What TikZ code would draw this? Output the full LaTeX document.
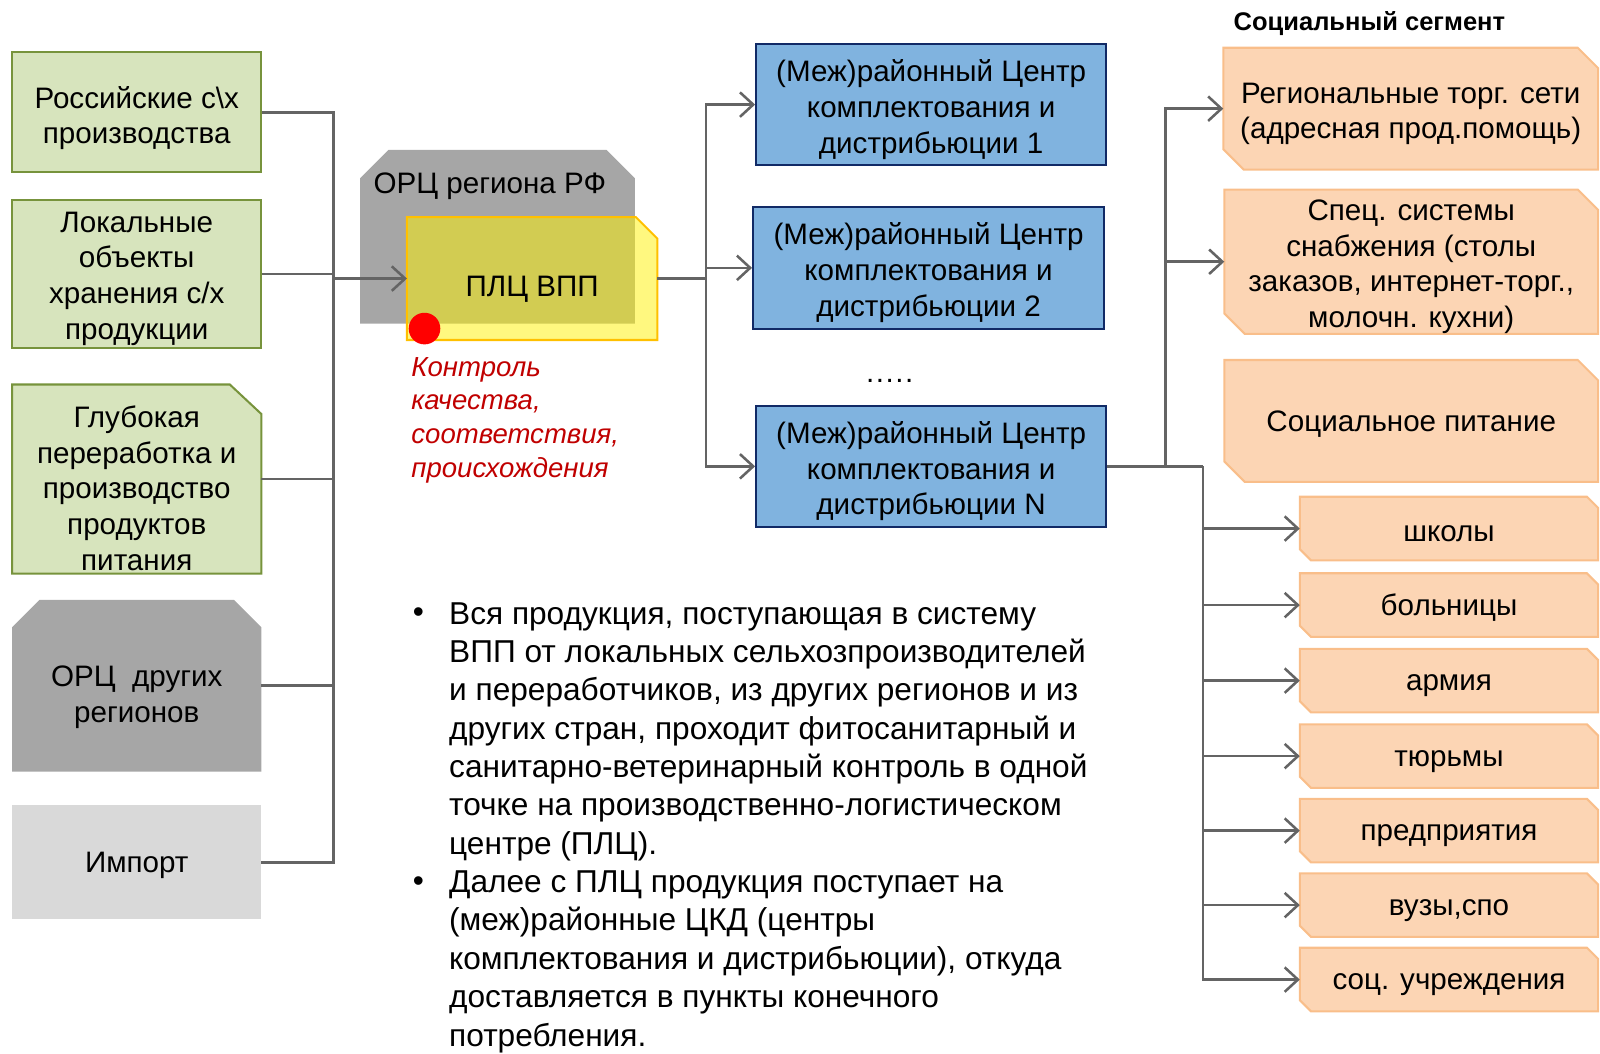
\documentclass[tikz,border=0pt]{standalone}
\usepackage{fontspec}
\setmainfont{Liberation Sans}
\usetikzlibrary{arrows.meta, backgrounds}

\definecolor{greenfill}{HTML}{D7E4BD}
\definecolor{greenline}{HTML}{77933C}
\definecolor{orcgray}{HTML}{A6A6A6}
\definecolor{importgray}{HTML}{D9D9D9}
\definecolor{bluefill}{HTML}{80B3DF}
\definecolor{blueline}{HTML}{112A66}
\definecolor{orangefill}{HTML}{FCD5B4}
\definecolor{orangeline}{HTML}{F9BE8A}
\definecolor{plcline}{HTML}{FFC000}
\definecolor{linegray}{HTML}{646464}
\definecolor{redtext}{HTML}{C00000}

\tikzset{
    box/.style={align=center, inner sep=0pt, font=\fontsize{29}{35}\selectfont,
        execute at begin node={\rule{0pt}{26pt}}},
    greenbox/.style={box, draw=greenline, fill=greenfill, line width=2pt, minimum width=244pt},
    bluebox/.style={box, draw=blueline, fill=bluefill, line width=2pt, minimum width=343pt, minimum height=119pt},
    greenshape/.style={draw=greenline, fill=greenfill, line width=2pt},
    orangeshape/.style={draw=orangeline, fill=orangefill, line width=2pt},
    conn/.style={draw=linegray, line width=2.5pt},
    arr/.style={conn, -{Straight Barb[length=13pt, width=24pt]}},
}

\begin{document}
\begin{tikzpicture}[x=1pt, y=-1pt]
    \useasboundingbox (0,0) rectangle (1568,1032);

    % sources
    \node[greenbox, minimum height=118pt] (ros) at (134,110) {\rule{0pt}{33pt}Российские с\textbackslash х\\производства};
    \node[greenbox, minimum height=145pt] (lok) at (134,268.5) {\rule{0pt}{29pt}Локальные\\объекты\\хранения с/х\\продукции};
    \node[box, minimum width=244pt, minimum height=185pt] (glub) at (134,469.5) {\rule{0pt}{39pt}Глубокая\\переработка и\\производство\\продуктов\\питания};
    \node[box, minimum width=244pt, minimum height=168pt] (orc2) at (134,672) {\rule{0pt}{43pt}ОРЦ\ \ других\\регионов};
    \node[box, fill=importgray, minimum width=244pt, minimum height=112pt] (imp) at (134,845) {Импорт};

    % regional centre
    \node[box, minimum width=269pt, minimum height=170pt] (orc) at (487.5,232) {};
    \node[box] (orctitle) at (480,180) {ОРЦ региона РФ};
    \node[box, minimum width=245pt, minimum height=120pt] (plc) at (521.5,273) {\rule{0pt}{40pt}ПЛЦ ВПП};
    \node[circle, fill=red, minimum size=31pt, inner sep=0pt] (dot) at (416,322) {};
    \node[anchor=north west, align=left, inner sep=0pt, text=redtext, font=\itshape\fontsize{27}{33}\selectfont] (ctrl) at (403,350) {Контроль\\качества,\\соответствия,\\происхождения};

    % distribution centres
    \node[bluebox] (c1) at (912.5,102.5) {\rule{0pt}{31pt}(Меж)районный Центр\\комплектования и\\дистрибьюции 1};
    \node[bluebox, minimum width=344pt] (c2) at (910,262.5) {\rule{0pt}{31pt}(Меж)районный Центр\\комплектования и\\дистрибьюции 2};
    \node[font=\fontsize{29}{35}\selectfont] (dots) at (872,373) {.\kern1.5pt.\kern1.5pt.\kern1.5pt.\kern1.5pt.};
    \node[bluebox] (cN) at (912.5,457) {\rule{0pt}{31pt}(Меж)районный Центр\\комплектования и\\дистрибьюции N};

    % social segment
    \node[font=\bfseries\fontsize{25}{30}\selectfont, inner sep=0pt] (seg) at (1342,23) {Социальный сегмент};
    \node[box, minimum width=367pt, minimum height=119pt] (o1) at (1382.5,106.5) {\rule{0pt}{30pt}Региональные торг. сети\\(адресная прод.помощь)};
    \node[box, minimum width=366pt, minimum height=137pt] (o2) at (1383,256.5) {\rule{0pt}{30pt}Спец. системы\\снабжения (столы\\заказов, интернет-торг.,\\молочн. кухни)};
    \node[box, minimum width=366pt, minimum height=119pt] (o3) at (1383,412.5) {Социальное питание};
    \node[box, minimum width=292pt, minimum height=62pt] (shk) at (1420,518) {школы};
    \node[box, minimum width=292pt, minimum height=62pt] (bol) at (1420,593) {больницы};
    \node[box, minimum width=292pt, minimum height=62pt] (arm) at (1420,667) {армия};
    \node[box, minimum width=292pt, minimum height=62pt] (tur) at (1420,741) {тюрьмы};
    \node[box, minimum width=292pt, minimum height=62pt] (pred) at (1420,814) {предприятия};
    \node[box, minimum width=292pt, minimum height=62pt] (vuz) at (1420,887) {вузы,спо};
    \node[box, minimum width=292pt, minimum height=62pt] (soc) at (1420,960) {соц. учреждения};

    % snipped shapes behind the texts
    \begin{scope}[on background layer]
        \filldraw[greenshape] (glub.south west) -- (glub.north west) -- ([xshift=-31pt]glub.north east)
            -- ([yshift=-29pt]glub.north east) -- (glub.south east) -- cycle;
        \fill[orcgray] (orc2.south west) -- ([yshift=-27pt]orc2.north west) -- ([xshift=27pt]orc2.north west)
            -- ([xshift=-27pt]orc2.north east) -- ([yshift=-27pt]orc2.north east) -- (orc2.south east) -- cycle;
        \fill[orcgray] (orc.south west) -- ([yshift=-28pt]orc.north west) -- ([xshift=28pt]orc.north west)
            -- ([xshift=-28pt]orc.north east) -- ([yshift=-28pt]orc.north east) -- (orc.south east) -- cycle;
        \filldraw[draw=plcline, fill=yellow, fill opacity=0.5, line width=2pt] (plc.south west) -- (plc.north west)
            -- ([xshift=-21pt]plc.north east) -- ([yshift=-21pt]plc.north east) -- (plc.south east) -- cycle;
        \foreach \o in {o1, o2, o3}
            \filldraw[orangeshape] (\o.north west) -- ([xshift=-20pt]\o.north east) -- ([yshift=-20pt]\o.north east)
                -- (\o.south east) -- ([xshift=20pt]\o.south west) -- ([yshift=20pt]\o.south west) -- cycle;
        \foreach \o in {shk, bol, arm, tur, pred, vuz, soc}
            \filldraw[orangeshape] (\o.north west) -- ([xshift=-11pt]\o.north east) -- ([yshift=-11pt]\o.north east)
                -- (\o.south east) -- ([xshift=11pt]\o.south west) -- ([yshift=11pt]\o.south west) -- cycle;
    \end{scope}

    % notes
    \node[anchor=north west, align=left, inner sep=0pt, font=\fontsize{31}{37.6}\selectfont] (info) at (440,590) {Вся продукция, поступающая в систему\\ВПП от локальных сельхозпроизводителей\\и переработчиков, из других регионов и из\\других стран, проходит фитосанитарный и\\санитарно-ветеринарный контроль в одной\\точке на производственно-логистическом\\центре (ПЛЦ).\\Далее с ПЛЦ продукция поступает на\\(меж)районные ЦКД (центры\\комплектования и дистрибьюции), откуда\\доставляется в пункты конечного\\потребления.};
    \node[font=\fontsize{31}{37.6}\selectfont] (b1) at (410,603) {•};
    \node[font=\fontsize{31}{37.6}\selectfont] (b2) at (410,866) {•};

    % connectors
    \coordinate (busL) at (327,273);
    \draw[conn] (ros.east) -| (busL);
    \draw[conn] (lok.east) -| (busL);
    \draw[conn] (glub.east) -| (busL);
    \draw[conn] (orc2.east) -| (busL);
    \draw[conn] (imp.east) -| (busL);
    \draw[arr] (busL) -- (plc.west);

    \coordinate (busM) at (692,273);
    \draw[conn] (plc.east) -- (busM);
    \draw[arr] (busM) |- (c1.west);
    \draw[arr] (busM) |- (c2.west);
    \draw[arr] (busM) |- (cN.west);

    \coordinate (busR) at (1142,457);
    \coordinate (busS) at (1179,457);
    \draw[conn] (cN.east) -- (busS);
    \draw[arr] (busR) |- (o1.west);
    \draw[arr] (busR) |- (o2.west);
    \draw[arr] (busS) |- (shk.west);
    \draw[arr] (busS) |- (bol.west);
    \draw[arr] (busS) |- (arm.west);
    \draw[arr] (busS) |- (tur.west);
    \draw[arr] (busS) |- (pred.west);
    \draw[arr] (busS) |- (vuz.west);
    \draw[arr] (busS) |- (soc.west);
\end{tikzpicture}
\end{document}
